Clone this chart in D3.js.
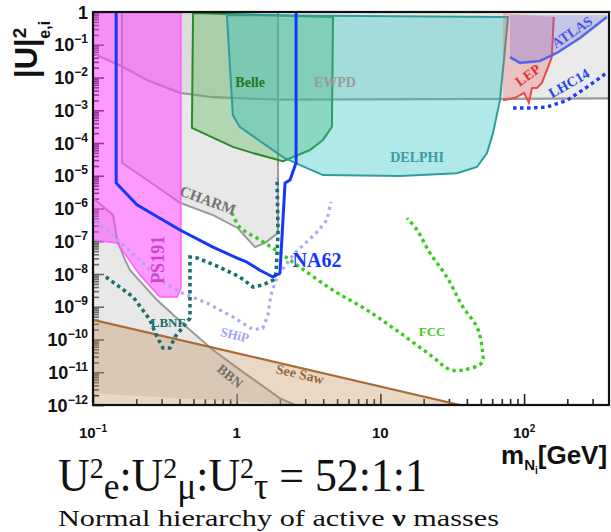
<!DOCTYPE html>
<html><head><meta charset="utf-8">
<script src="https://cdn.jsdelivr.net/npm/d3@7"></script>
<style>body{margin:0;background:#fff}svg{display:block}</style>
</head><body>
<svg id="c" width="611" height="532"></svg>
<script>
// ---------- data (mass in GeV, |U_e|^2) ----------
const xMajor = [0.1, 1, 10, 100];
const xTickBase = ["10", "1", "10", "10"];
const xTickExp = ["−1", "", "", "2"];
const yMajor = [1, 1e-1, 1e-2, 1e-3, 1e-4, 1e-5, 1e-6, 1e-7, 1e-8, 1e-9, 1e-10, 1e-11, 1e-12];
const yTickExp = ["", "−1", "−2", "−3", "−4", "−5", "−6", "−7", "−8", "−9", "−10", "−11", "−12"];

const ewpdEdge = [[0.1,5.6e-2],[0.106,4.9e-2],[0.162,2.1e-2],[0.237,8.4e-3],[0.403,3.4e-3],[0.68,2.5e-3],[2.0,2.1e-3],[390,2.3e-3]];
const charm = [[0.159,1],[1.94,1],[1.94,1.8e-7],[1.58,8.9e-8],[1.34,6.6e-8],[1.02,2.5e-7],[0.684,6.3e-7],[0.403,1.5e-6],[0.238,7.4e-6],[0.159,2.5e-5]];
const bbnLine = [[0.1,2.1e-6],[0.138,6.3e-7],[0.147,1.1e-7],[0.167,2.7e-8],[0.181,1.3e-8],[0.279,1.6e-9],[0.473,1.95e-10],[0.684,4.8e-11],[1.05,1.2e-11],[2.0,1.6e-12],[2.55,1e-12]];
const bbnCorner = [[0.1,2.3e-12]];
const seesawLine = [[0.1,4.0e-10],[35.8,1e-12]];
const seesawCorner = [[0.1,1e-12]];
const belle = [[0.497,0.93],[4.68,0.70],[4.6,3.1e-4],[3.98,1.24e-4],[3.24,6.1e-5],[2.10,2.8e-5],[1.30,4.9e-5],[0.94,7.6e-5],[0.488,2.9e-4]];
const delphi = [[0.855,0.81],[77.3,0.70],[73.6,6.9e-2],[67.9,2.0e-3],[60.8,2.0e-4],[55.2,4.9e-5],[47.0,1.85e-5],[34.1,1.2e-5],[13.7,9.8e-6],[3.99,1.05e-5],[2.76,2.1e-5],[2.10,3.7e-5],[1.05,3.1e-4],[0.94,7.1e-4]];
const lep = [[71.3,0.93],[161,0.70],[156,4.2e-2],[147,2.1e-2],[133,6.8e-3],[123,4.8e-3],[113.5,4.8e-3],[108,1.7e-3],[100,3.4e-3],[86.5,2.4e-3],[71.3,2.0e-3]];
const atlasLine = [[79.8,4.2e-2],[93.6,2.8e-2],[129,3.2e-2],[169,5.6e-2],[245,0.16],[377,0.70]];
const atlasTop = [[377,0.81],[79.8,0.81]];
const lhc14 = [[83.8,1.17e-3],[110,1.17e-3],[144,1.25e-3],[199,2.0e-3],[274,5.1e-3],[377,1.4e-2]];
const ps191 = [[0.1,1],[0.409,1],[0.409,3.7e-9],[0.385,2.0e-9],[0.292,2.0e-9],[0.212,9.3e-9],[0.147,8.9e-8],[0.1,1.1e-7]];
const na62 = [[0.145,1],[0.145,6.0e-6],[0.202,1.3e-6],[0.403,2.2e-7],[0.684,6.6e-8],[1.0,3.1e-8],[1.18,2.3e-8],[1.45,1.3e-8],[1.79,8.1e-9],[2.0,1.07e-8],[2.17,6.0e-6],[2.35,7.4e-6],[2.59,2.5e-5],[2.59,1]];
const fcc = [[0.927,7.3e-7],[1.05,2.7e-7],[1.45,1.1e-7],[2.0,4.4e-8],[2.76,1.6e-8],[4.68,3.2e-9],[8.07,7.9e-10],[13.7,1.6e-10],[23.2,2.9e-11],[30.5,1.2e-11],[38.8,1.2e-11],[50.9,2.0e-11],[50.9,5.9e-11],[47.0,2.4e-10],[37.6,9.8e-10],[29.0,8.1e-9],[22.1,4.4e-8],[18.0,2.2e-7],[15.3,5.1e-7]];
const ship = [[0.103,3.9e-7],[0.131,1.9e-7],[0.162,7.7e-8],[0.223,2.2e-8],[0.292,6.5e-9],[0.403,2.8e-9],[0.621,1.3e-9],[0.94,4.9e-10],[1.30,2.0e-10],[1.52,2.2e-10],[1.65,5.6e-10],[1.73,2.3e-9],[1.91,8.1e-9],[2.46,3.8e-8],[3.62,1.9e-7],[4.25,4.5e-7],[4.53,1.6e-6]];
const lbnf = [[0.123,8.1e-9],[0.190,2.0e-9],[0.249,4.0e-10],[0.279,1.2e-10],[0.307,5.5e-11],[0.343,5.5e-11],[0.372,1.2e-10],[0.423,2.4e-10],[0.473,4.5e-10],[0.473,3.3e-8],[0.530,3.1e-8],[0.765,1.6e-8],[1.05,8.1e-9],[1.30,4.0e-9],[1.52,4.6e-9],[1.79,6.5e-9],[1.88,1.07e-8],[1.94,1.8e-7],[1.91,8.5e-6]];

// annotation labels (text + anchor point in data coordinates)
const labelText = ["Belle","EWPD","DELPHI","LEP","ATLAS","LHC14","CHARM","NA62","PS191","LBNF","SHiP","FCC","See Saw","BBN"];
const labelMass = [1.24, 4.83, 18, 106, 215, 205, 0.63, 3.62, 0.283, 0.333, 0.97, 22.9, 2.76, 0.9];
const labelU2 = [7.3e-3, 7.3e-3, 3.7e-5, 1.2e-2, 0.245, 6.8e-3, 1.8e-6, 2.7e-8, 2.7e-8, 3.4e-10, 1.4e-10, 1.8e-10, 8.9e-12, 7.7e-12];

// ---------- drawing ----------
const svg = d3.select("#c");
const L = 93, R = 609, T = 12, B = 405;
const x = d3.scaleLog().domain([0.1, 390]).range([L, R]);
const y = d3.scaleLog().domain([1e-12, 1]).range([B, T]);
const line = d3.line().x(d => x(d[0])).y(d => y(d[1]));
const smooth = d3.line().x(d => x(d[0])).y(d => y(d[1])).curve(d3.curveCatmullRom.alpha(0.5));

svg.append("defs").append("clipPath").attr("id","clip")
  .append("rect").attr("x",L).attr("y",T).attr("width",R-L).attr("height",B-T);

// ticks (under the semi-transparent regions)
const minorX = [], minorY = [];
[0.1,1,10,100].forEach(d => { for (let k=2;k<=9;k++){ const v=d*k; if (v<390) minorX.push(v);} });
yMajor.slice(1).forEach(d => { for (let k=2;k<=9;k++) minorY.push(d*k); });

function styleAxis(g){ g.select(".domain").remove(); g.selectAll("line").attr("stroke","#222").attr("stroke-width",1.6); g.selectAll("text").remove(); }
svg.append("g").attr("transform",`translate(0,${B})`).call(d3.axisBottom(x).tickValues(xMajor).tickSize(-11).tickFormat("")).call(styleAxis);
svg.append("g").attr("transform",`translate(0,${B})`).call(d3.axisBottom(x).tickValues(minorX).tickSize(-6).tickFormat("")).call(styleAxis);
svg.append("g").attr("transform",`translate(${L},0)`).call(d3.axisLeft(y).tickValues(yMajor).tickSize(-11).tickFormat("")).call(styleAxis);
svg.append("g").attr("transform",`translate(${L},0)`).call(d3.axisLeft(y).tickValues(minorY).tickSize(-6).tickFormat("")).call(styleAxis);

const P = svg.append("g").attr("clip-path","url(#clip)");

// EWPD
P.append("path").attr("d", line(ewpdEdge.concat([[390,1],[0.1,1]])) + "Z").attr("fill","rgba(170,170,170,0.25)");
// CHARM
P.append("path").attr("d", line(charm)+"Z").attr("fill","rgba(200,200,200,0.42)").attr("stroke","#9a9a9a").attr("stroke-width",2);
// BBN
P.append("path").attr("d", line(bbnLine.concat(bbnCorner))+"Z").attr("fill","rgba(200,200,200,0.42)");
P.append("path").attr("d", line(bbnLine)).attr("fill","none").attr("stroke","#9a9a9a").attr("stroke-width",2);
// See-saw
P.append("path").attr("d", line(seesawLine.concat(seesawCorner))+"Z").attr("fill","rgba(190,135,80,0.32)");
P.append("path").attr("d", line(seesawLine)).attr("fill","none").attr("stroke","#a86c34").attr("stroke-width",2.2);
// EWPD edge
P.append("path").attr("d", line(ewpdEdge)).attr("fill","none").attr("stroke","#9a9a9a").attr("stroke-width",2.2);
// Belle
P.append("path").attr("d", line(belle)+"Z").attr("fill","rgba(70,175,70,0.33)").attr("stroke","#2a8a2a").attr("stroke-width",2);
// DELPHI
P.append("path").attr("d", line(delphi)+"Z").attr("fill","rgba(50,195,195,0.38)").attr("stroke","#2e9d9d").attr("stroke-width",2);
// LEP
P.append("path").attr("d", line(lep)+"Z").attr("fill","rgba(235,90,90,0.28)");
P.append("path").attr("d", line(lep.slice(1))).attr("fill","none").attr("stroke","#ec4a4a").attr("stroke-width",2);
// ATLAS
P.append("path").attr("d", line(atlasLine.concat(atlasTop))+"Z").attr("fill","rgba(100,100,220,0.28)");
P.append("path").attr("d", line(atlasLine)).attr("fill","none").attr("stroke","#5566e6").attr("stroke-width",2.5);
// PS191
P.append("path").attr("d", line(ps191)+"Z").attr("fill","rgba(255,70,255,0.55)").attr("stroke","#ff5cff").attr("stroke-width",1.5);

// dotted sensitivity curves
function dotted(data, color, w, dash, curve){
  P.append("path").attr("d", (curve?smooth:line)(data)).attr("fill","none").attr("stroke",color)
   .attr("stroke-width",w).attr("stroke-dasharray",dash).attr("stroke-linecap","butt");
}
dotted(ship, "#a9a9f2", 3.2, "3,4", false);
dotted(lbnf, "#17706c", 3.6, "3.5,3.5", false);
dotted(fcc, "#38cc1e", 3.4, "3.4,3.6", true);
dotted(lhc14, "#1f3df0", 3.4, "3.5,3.5", false);

// NA62
P.append("path").attr("d", line(na62)).attr("fill","none").attr("stroke","#1437ff").attr("stroke-width",3).attr("stroke-linejoin","round");

// labels
const labelStyle = {
  "Belle":{c:"#1c7a1c",s:14,r:0}, "EWPD":{c:"#9a9a9a",s:14,r:0}, "DELPHI":{c:"#3a9c9c",s:14,r:0},
  "LEP":{c:"#f02a2a",s:14,r:-36}, "ATLAS":{c:"#4455ee",s:14,r:-34}, "LHC14":{c:"#2244ee",s:14,r:-30},
  "CHARM":{c:"#737373",s:15,r:20}, "NA62":{c:"#1437ff",s:20,r:0}, "PS191":{c:"#cc44cc",s:18,r:-90},
  "LBNF":{c:"#1a6e6a",s:13,r:0}, "SHiP":{c:"#a4a4ee",s:13,r:14}, "FCC":{c:"#44cc22",s:13,r:0},
  "See Saw":{c:"#9a6836",s:14,r:13}, "BBN":{c:"#6e6e6e",s:14,r:40}
};
labelText.forEach((t,i) => {
  const st = labelStyle[t];
  svg.append("text").attr("transform",`translate(${x(labelMass[i])},${y(labelU2[i])}) rotate(${st.r})`)
    .attr("text-anchor","middle").attr("dy","0.35em")
    .style("font-family","'Liberation Serif','Times New Roman',serif").style("font-weight","bold")
    .style("font-size",st.s+"px").attr("fill",st.c).text(t);
});

// frame
svg.append("rect").attr("x",L).attr("y",T).attr("width",R-L).attr("height",B-T)
  .attr("fill","none").attr("stroke","#111").attr("stroke-width",2.2);

// tick labels
const sans = "'Liberation Sans',Arial,Helvetica,sans-serif";
yMajor.forEach((v,i) => {
  const t = svg.append("text").attr("x",88).attr("y",y(v)+6.5).attr("text-anchor","end")
    .style("font-family",sans).style("font-weight","bold").style("font-size","18px").attr("fill","#111");
  if (yTickExp[i]==="") t.text("1");
  else { t.append("tspan").text("10"); t.append("tspan").attr("dy",-8).style("font-size","12px").text(yTickExp[i]); }
});
xMajor.forEach((v,i) => {
  const t = svg.append("text").attr("x",x(v)).attr("y",438).attr("text-anchor","middle")
    .style("font-family",sans).style("font-weight","bold").style("font-size","15px").attr("fill","#111");
  t.append("tspan").text(xTickBase[i]);
  if (xTickExp[i]) t.append("tspan").attr("dy",-6).style("font-size","10px").text(xTickExp[i]);
});

// axis titles
const yt = svg.append("text").attr("transform","translate(37,78) rotate(-90)")
  .style("font-family",sans).style("font-weight","bold").attr("fill","#111");
yt.append("tspan").style("font-size","31px").text("|U|");
yt.append("tspan").attr("dy",-11).style("font-size","19px").text("2");
yt.append("tspan").attr("dx",-11).attr("dy",24).style("font-size","16px").text("e,i");

const xt = svg.append("text").attr("x",501).attr("y",464)
  .style("font-family",sans).style("font-weight","bold").attr("fill","#111");
xt.append("tspan").style("font-size","26px").text("m");
xt.append("tspan").attr("dy",6).style("font-size","15px").text("N");
xt.append("tspan").attr("dy",4).style("font-size","10px").text("i");
xt.append("tspan").attr("dy",-10).style("font-size","26px").text("[GeV]");

// formula + caption
const serif = "'Liberation Serif','Times New Roman',serif";
function fitText(sel, target){ const w = sel.node().getComputedTextLength(); return target / w; }
const fg = svg.append("g");
const ft = fg.append("text").style("font-family",serif).style("font-size","47px").attr("fill","#111");
[["U",0,47],["2",-13,30],["e",21,38],[":",-8,47],["U",0,47],["2",-13,30],["μ",21,38],[":",-8,47],["U",0,47],["2",-13,30],["τ",21,38],[" = 52:1:1",-8,47]]
  .forEach(p => ft.append("tspan").attr("dy",p[1]).style("font-size",p[2]+"px").text(p[0]));
const s1 = fitText(ft, 369);
fg.attr("transform",`translate(58,491) scale(${s1},1)`);

const cg = svg.append("g");
const ct = cg.append("text").style("font-family",serif).style("font-size","24px").attr("fill","#111");
ct.append("tspan").text("Normal hierarchy of active ");
ct.append("tspan").style("font-weight","bold").text("ν");
ct.append("tspan").text(" masses");
const s2 = fitText(ct, 441);
cg.attr("transform",`translate(58,526) scale(${s2},1)`);
</script>
</body></html>
